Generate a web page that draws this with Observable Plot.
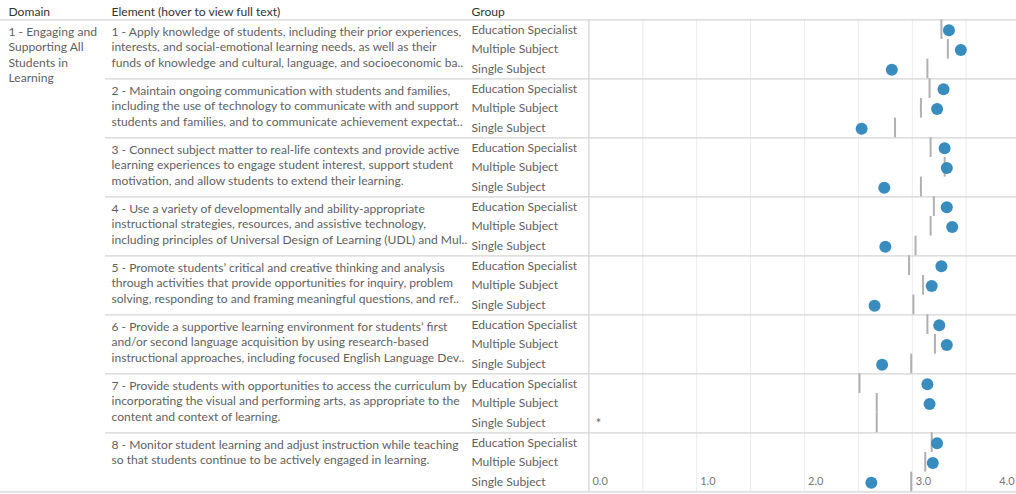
<!DOCTYPE html>
<html>
<head>
<meta charset="utf-8">
<script src="https://cdn.jsdelivr.net/npm/d3@7"></script>
<script src="https://cdn.jsdelivr.net/npm/@observablehq/plot@0.6"></script>
<style>
  html, body { margin: 0; padding: 0; background: #fff; }
  #chart svg { display: block; }
</style>
</head>
<body>
<div id="chart"></div>
<script>
// ---- data ----
const domainLabel = "1 - Engaging and\nSupporting All\nStudents in\nLearning";
const headers = ["Domain", "Element (hover to view full text)", "Group"];
const elements = [
  "1 - Apply knowledge of students, including their prior experiences,\ninterests, and social-emotional learning needs, as well as their\nfunds of knowledge and cultural, language, and socioeconomic ba..",
  "2 - Maintain ongoing communication with students and families,\nincluding the use of technology to communicate with and support\nstudents and families, and to communicate achievement expectat..",
  "3 - Connect subject matter to real-life contexts and provide active\nlearning experiences to engage student interest, support student\nmotivation, and allow students to extend their learning.",
  "4 - Use a variety of developmentally and ability-appropriate\ninstructional strategies, resources, and assistive technology,\nincluding principles of Universal Design of Learning (UDL) and Mul..",
  "5 - Promote students\u2019 critical and creative thinking and analysis\nthrough activities that provide opportunities for inquiry, problem\nsolving, responding to and framing meaningful questions, and ref..",
  "6 - Provide a supportive learning environment for students\u2019 first\nand/or second language acquisition by using research-based\ninstructional approaches, including focused English Language Dev..",
  "7 - Provide students with opportunities to access the curriculum by\nincorporating the visual and performing arts, as appropriate to the\ncontent and context of learning.",
  "8 - Monitor student learning and adjust instruction while teaching\nso that students continue to be actively engaged in learning."
];
const groups = ["Education Specialist", "Multiple Subject", "Single Subject"];
// scores (dots)
const edSpecialistScore   = [3.34, 3.29, 3.30, 3.32, 3.27, 3.25, 3.14, 3.23];
const multipleSubjScore   = [3.45, 3.23, 3.32, 3.37, 3.18, 3.32, 3.16, 3.19];
const singleSubjScore     = [2.81, 2.53, 2.74, 2.75, 2.65, 2.72, null, 2.62];
// reference values (grey ticks)
const edSpecialistRef     = [3.27, 3.16, 3.17, 3.20, 2.97, 3.14, 2.51, 3.18];
const multipleSubjRef     = [3.33, 3.08, 3.30, 3.17, 3.10, 3.21, 2.67, 3.12];
const singleSubjRef       = [3.14, 2.84, 3.08, 3.03, 3.01, 2.99, 2.67, 2.99];
const xTickValues = [0, 1, 2, 3];
const xLastTick = [4];
const gridValues = [0.5, 1, 1.5, 2, 2.5, 3, 3.5];

// ---- build rows ----
const scoreSets = [edSpecialistScore, multipleSubjScore, singleSubjScore];
const refSets = [edSpecialistRef, multipleSubjRef, singleSubjRef];
const rows = [];
elements.forEach((el, i) => {
  groups.forEach((g, j) => {
    rows.push({key: `${i}|${g}`, element: i, group: g, score: scoreSets[j][i], ref: refSets[j][i]});
  });
});
const keys = rows.map(d => d.key);
const firstRows = rows.filter(d => d.group === groups[0]);
const elementRows = firstRows.map(d => ({...d, text: elements[d.element]}));

const W = 1016, H = 494;
const paneTop = 19.3, paneBottom = 491.3;
const step = (paneBottom - paneTop) / keys.length;
const font = "Lato, 'Open Sans', sans-serif";
const fs = 12.1;
const textColor = "#5f5f5f";
const headColor = "#333";
const lineColor = "#d4d4d4";

const chart = Plot.plot({
  width: W,
  height: H,
  margin: 0,
  style: {fontFamily: font, fontSize: fs + "px", background: "#fff", color: textColor, overflow: "hidden"},
  x: {domain: [0, 4], range: [588.4, 1019.6], axis: null},
  y: {type: "band", domain: keys, range: [paneTop, paneBottom], padding: 0, round: false, axis: null},
  marks: [
    Plot.ruleX(gridValues, {stroke: "#ececec", strokeWidth: 1, insetTop: paneTop, insetBottom: H - paneBottom}),
    Plot.ruleX([0], {stroke: lineColor, strokeWidth: 1.3, insetTop: paneTop, insetBottom: H - paneBottom}),
    Plot.ruleY(firstRows.slice(0, 1), {y: "key", dy: -step / 2, stroke: lineColor, strokeWidth: 1.3}),
    Plot.ruleY(rows.slice(-1), {y: "key", dy: step / 2, stroke: lineColor, strokeWidth: 1.3}),
    Plot.ruleY(firstRows.slice(1), {y: "key", dy: -step / 2, stroke: lineColor, strokeWidth: 1.3, insetLeft: 105}),
    Plot.text([headers[0]], {frameAnchor: "top-left", dx: 8, dy: 12, textAnchor: "start", lineAnchor: "middle", fill: headColor}),
    Plot.text([headers[1]], {frameAnchor: "top-left", dx: 111, dy: 12, textAnchor: "start", lineAnchor: "middle", fill: headColor}),
    Plot.text([headers[2]], {frameAnchor: "top-left", dx: 471, dy: 12, textAnchor: "start", lineAnchor: "middle", fill: headColor}),
    Plot.text(firstRows.slice(0, 1), {y: "key", text: () => domainLabel, frameAnchor: "left", dx: 8, dy: -5.2, textAnchor: "start", lineAnchor: "top", lineHeight: 15.6 / fs, fill: textColor}),
    Plot.text(elementRows, {y: "key", text: "text", frameAnchor: "left", dx: 111, dy: -5.2, textAnchor: "start", lineAnchor: "top", lineHeight: 15.6 / fs, fill: textColor}),
    Plot.text(rows, {y: "key", text: "group", frameAnchor: "left", dx: 471, textAnchor: "start", lineAnchor: "middle", fill: textColor}),
    Plot.tickX(rows.filter(d => d.ref != null), {x: "ref", y: "key", stroke: "#b0b0b0", strokeWidth: 2}),
    Plot.dot(rows.filter(d => d.score != null), {x: "score", y: "key", r: 6, fill: "#2e86bb", fillOpacity: 0.95, stroke: "none", dy: 0.7}),
    Plot.text(rows.filter(d => d.score == null), {x: () => 0, y: "key", text: () => "*", dx: 9.5, dy: 1, textAnchor: "middle", fill: "#666", fontSize: 13}),
    Plot.text(xTickValues, {x: d => d, y: () => keys[keys.length - 1], text: d => d.toFixed(1), dx: 3.5, textAnchor: "start", fill: "#777", fontSize: 11}),
    Plot.text(xLastTick, {x: d => d, y: () => keys[keys.length - 1], text: d => d.toFixed(1), dx: -5.5, textAnchor: "end", fill: "#777", fontSize: 11})
  ]
});
document.getElementById("chart").appendChild(chart);
</script>
</body>
</html>
